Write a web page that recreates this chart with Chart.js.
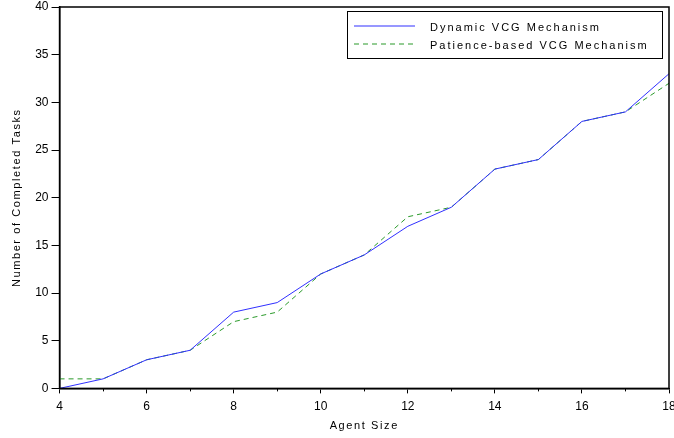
<!DOCTYPE html>
<html>
<head>
<meta charset="utf-8">
<script src="https://cdn.jsdelivr.net/npm/chart.js@4"></script>
<style>
  html, body { margin: 0; padding: 0; background: #fff; }
  #wrap { width: 674px; height: 438px; }
</style>
</head>
<body>
<div id="wrap"><canvas id="chart"></canvas></div>
<script>
let agentSizes = [4, 5, 6, 7, 8, 9, 10, 11, 12, 13, 14, 15, 16, 17, 18];
let dynamicVcg = [0, 1, 3, 4, 8, 9, 12, 14, 17, 19, 23, 24, 28, 29, 33];
let patienceVcg = [1, 1, 3, 4, 7, 8, 12, 14, 18, 19, 23, 24, 28, 29, 32];
let seriesNames = ["Dynamic VCG Mechanism", "Patience-based VCG Mechanism"];

const FONT = "'Liberation Sans', Arial, sans-serif";

// the axis titles in the original are spaced out a bit
function spaceTitles(chart) {
    ['x', 'y'].forEach(id => {
        const s = chart.scales[id];
        if (!s || s._spaced) return;
        const orig = s.drawTitle;
        s.drawTitle = function () {
            this.ctx.save();
            this.ctx.letterSpacing = '1.6px';
            orig.apply(this, arguments);
            this.ctx.restore();
        };
        s._spaced = true;
    });
}

// frame round the plot + short minor ticks on odd x values
const framePlugin = {
    id: 'frame',
    beforeDraw(chart) {
        spaceTitles(chart);
    },
    afterDraw(chart) {
        const ctx = chart.ctx;
        const a = chart.chartArea;
        ctx.save();
        ctx.strokeStyle = '#000';
        ctx.lineWidth = 1.5;
        ctx.strokeRect(a.left, a.top, a.right - a.left, a.bottom - a.top);
        const xs = chart.scales.x;
        ctx.lineWidth = 1;
        for (let v = 5; v < 18; v += 2) {
            const px = Math.round(xs.getPixelForValue(v)) + 0.5;
            ctx.beginPath();
            ctx.moveTo(px, a.bottom);
            ctx.lineTo(px, a.bottom + 3);
            ctx.stroke();
        }
        ctx.restore();
    }
};

// boxed legend in the top right corner, built from the datasets
const boxLegend = {
    id: 'boxLegend',
    afterDraw(chart) {
        const ctx = chart.ctx;
        const a = chart.chartArea;
        const right = a.right - 7, top = a.top + 4;
        const w = 315, h = 47;
        const left = right - w;
        ctx.save();
        ctx.fillStyle = '#fff';
        ctx.fillRect(left, top, w, h);
        ctx.strokeStyle = '#000';
        ctx.lineWidth = 1;
        ctx.strokeRect(left + 0.5, top + 0.5, w, h);
        ctx.font = '11px ' + FONT;
        ctx.textBaseline = 'middle';
        chart.data.datasets.forEach((ds, i) => {
            const ty = top + 17 + i * 18;
            const ly = Math.round(ty - 2);
            ctx.strokeStyle = ds.borderColor;
            ctx.lineWidth = 1.2;
            ctx.setLineDash(ds.borderDash || []);
            ctx.beginPath();
            ctx.moveTo(left + 7, ly);
            ctx.lineTo(left + 68, ly);
            ctx.stroke();
            ctx.setLineDash([]);
            ctx.fillStyle = '#000';
            ctx.letterSpacing = '2px';
            ctx.fillText(ds.label, left + 83, ty);
            ctx.letterSpacing = '0px';
        });
        ctx.restore();
    }
};

function xy(xs, ys) {
    return xs.map((x, i) => ({ x: x, y: ys[i] }));
}

const ctx = document.getElementById('chart').getContext('2d');
const chart = new Chart(ctx, {
    type: 'line',
    data: {
        datasets: [{
            label: seriesNames[0],
            data: xy(agentSizes, dynamicVcg),
            borderColor: '#3030ff',
            borderWidth: 1,
            pointRadius: 0,
            tension: 0
        }, {
            label: seriesNames[1],
            data: xy(agentSizes, patienceVcg),
            borderColor: '#2a9a2a',
            borderWidth: 1,
            borderDash: [5, 4],
            pointRadius: 0,
            tension: 0
        }]
    },
    options: {
        responsive: true,
        maintainAspectRatio: false,
        animation: false,
        layout: { padding: { left: 10, right: 0, top: 0, bottom: 5 } },
        plugins: {
            legend: { display: false },
            tooltip: { enabled: false }
        },
        scales: {
            x: {
                type: 'linear',
                min: 4,
                max: 18,
                afterFit(scale) { scale.paddingRight = 5; },
                ticks: {
                    stepSize: 2,
                    color: '#000',
                    font: { family: FONT, size: 12 },
                    maxRotation: 0,
                    padding: 6
                },
                grid: {
                    drawOnChartArea: false,
                    tickLength: 5,
                    tickColor: '#000',
                    tickWidth: 1
                },
                border: { color: '#000', width: 1.5 },
                title: {
                    display: true,
                    text: 'Agent Size',
                    color: '#000',
                    font: { family: FONT, size: 11 },
                    padding: { top: 0, bottom: 0 }
                }
            },
            y: {
                min: 0,
                max: 40,
                afterFit(scale) { scale.paddingTop = 7; },
                ticks: {
                    stepSize: 5,
                    color: '#000',
                    font: { family: FONT, size: 12 },
                    padding: 3
                },
                grid: {
                    drawOnChartArea: false,
                    tickLength: 8,
                    tickColor: '#000',
                    tickWidth: 1
                },
                border: { color: '#000', width: 1.5 },
                title: {
                    display: true,
                    text: 'Number of Completed Tasks',
                    color: '#000',
                    font: { family: FONT, size: 11 },
                    padding: { top: 0, bottom: 9 }
                }
            }
        }
    },
    plugins: [framePlugin, boxLegend]
});
</script>
</body>
</html>
